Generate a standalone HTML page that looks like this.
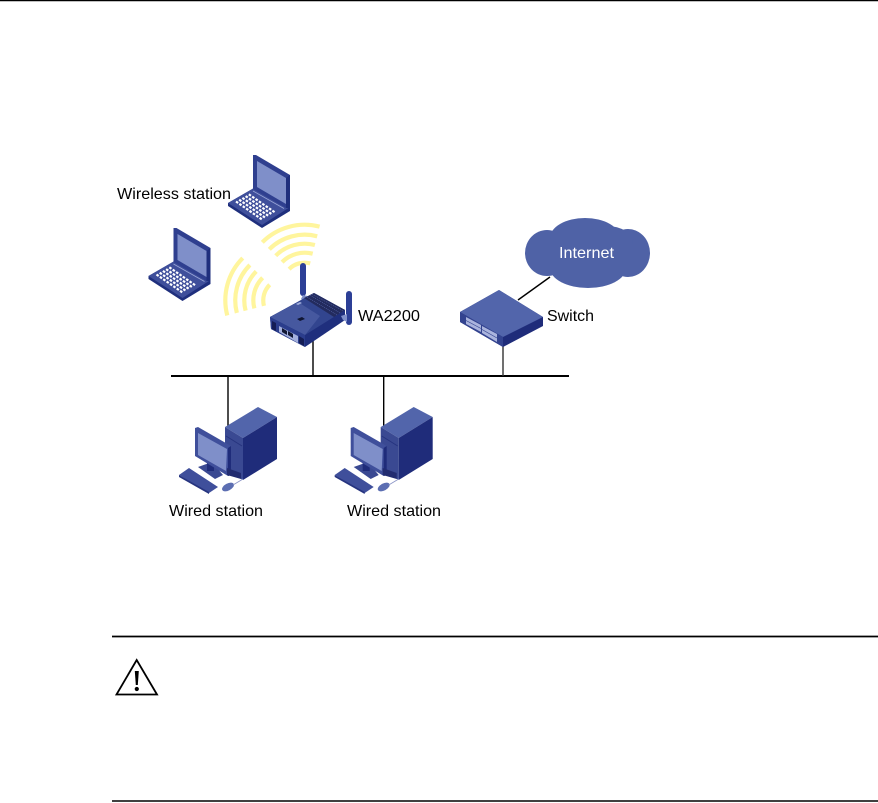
<!DOCTYPE html>
<html><head><meta charset="utf-8"><style>
html,body{margin:0;padding:0;background:#fff;width:878px;height:803px;overflow:hidden}
svg{display:block}
text{font-family:"Liberation Sans",sans-serif;font-size:15.6px;fill:#000}
</style></head><body>
<svg width="878" height="803" viewBox="0 0 878 803" xmlns="http://www.w3.org/2000/svg">
<defs>
<g id="wifi" fill="none" stroke="#fff59d" stroke-width="4.2">
<path d="M-42.4 -42.4A60 60 0 0 1 14.9 -58.1"/>
<path d="M-35.4 -35.4A50 50 0 0 1 12.5 -48.4"/>
<path d="M-29 -29A41 41 0 0 1 10.2 -39.7"/>
<path d="M-22.6 -22.6A32 32 0 0 1 8 -31"/>
<path d="M-15.6 -15.6A22 22 0 0 1 5.5 -21.3"/>
</g>
<g id="laptop">
<polygon points="228,203 254,188 290,207 290,211 262,228 228,206" fill="#1f2f7d"/>
<polygon points="228,203 254,188 290,207 262,225" fill="#3f4f9b"/>
<polygon points="253,155 256,155 290,175 290,208 286,208 253,189" fill="#2f3f8f"/>
<polygon points="286,178 290,175 290,208 286,208" fill="#1f2f7d"/>
<polygon points="257,161 286,178 286,204 257,187" fill="#7f8fc9"/>
<g stroke="#fff" stroke-width="2.2" stroke-dasharray="2.6 1.5" fill="none">
<line x1="236" y1="201.5" x2="262" y2="219.5"/>
<line x1="239.2" y1="199.7" x2="265.2" y2="217.7"/>
<line x1="242.4" y1="197.9" x2="268.4" y2="215.9"/>
<line x1="245.6" y1="196.1" x2="271.6" y2="214.1"/>
<line x1="248.8" y1="194.3" x2="274.8" y2="212.3"/>
</g>
<line x1="253" y1="191" x2="284" y2="208.5" stroke="#9aa6d8" stroke-width=".8"/>
</g>
<g id="pc">
<line x1="228" y1="376" x2="228" y2="428" stroke="#000" stroke-width="1.4"/>
<polygon points="225,427 258,407 277,417 243,438" fill="#5265ab"/>
<polygon points="243,438 277,417 277,459 243,480" fill="#1f2c7a"/>
<polygon points="225,427 243,438 243,480 225,470" fill="#3a4992"/>
<line x1="226" y1="436" x2="242" y2="446" stroke="#26347f" stroke-width="1"/>
<polygon points="198,467 212,462 223,475 215,479" fill="#3a4992"/>
<polygon points="207,463 214,461 214,471 207,471" fill="#1f2c7a"/>
<polygon points="195,428 198,427 231,446 231,475 228,476 195,456" fill="#3f4f9b"/>
<polygon points="228,448 231,446 231,475 228,476" fill="#1f2c7a"/>
<polygon points="198,433 227,449 226,471 198,455" fill="#7f8fc9"/>
<polygon points="179,475 189,468 218,487 209,493" fill="#3f4f9b"/>
<polygon points="179,475 209,492 209,494 179,477" fill="#26347f"/>
<ellipse cx="228" cy="487" rx="6.5" ry="3.5" transform="rotate(-28 228 487)" fill="#5c6eb2"/>
<path d="M233 485L243 479" stroke="#8a94c6" stroke-width=".8" fill="none"/>
<polygon points="227,475 241,479 241,473 227,468" fill="#222c70"/>
</g>
</defs>

<line x1="0" y1="0.5" x2="878" y2="0.5" stroke="#000" stroke-width="1.4"/>

<use href="#wifi" transform="translate(304.7 284.7)"/>
<use href="#wifi" transform="translate(285.3 300.3) rotate(-59.6)"/>

<use href="#laptop"/>
<use href="#laptop" transform="translate(-79.5 73)"/>

<line x1="171" y1="376" x2="569" y2="376" stroke="#000" stroke-width="2"/>
<line x1="313" y1="340" x2="313" y2="376" stroke="#000" stroke-width="1.4"/>
<line x1="503" y1="340" x2="503" y2="376" stroke="#333" stroke-width="1.4"/>
<line x1="518" y1="300" x2="550" y2="277" stroke="#000" stroke-width="1.4"/>

<!-- router -->
<rect x="300" y="263" width="6" height="33" rx="3" fill="#2c3f96"/>
<polygon points="303,295 312,297 308,303 301,299" fill="#7f8fc9"/>
<polygon points="270,317 314,293 345,310 345,320 305,347 271,329" fill="#1f2f7d"/>
<polygon points="270,317 314,293 345,310 305,335" fill="#32458f"/>
<polygon points="270,317 298,302 320,316 305,335" fill="#46589f"/>
<polygon points="270,317 305,335 305,347 271,329" fill="#2b3d8c"/>
<polygon points="304,298 314,293 345,310 334,317" fill="#232b5e"/>
<g stroke="#5a6bb0" stroke-width=".6" stroke-dasharray="1 1"><line x1="307" y1="297" x2="337" y2="315"/><line x1="310" y1="295" x2="340" y2="313"/><line x1="312" y1="294" x2="343" y2="311"/></g>
<polygon points="279,326 298,336 298,343 279,332" fill="#a3afdc"/>
<polygon points="282,328 287,331 287,335 282,332" fill="#101633"/>
<polygon points="288,331 293,334 293,338 288,335" fill="#101633"/>
<polygon points="272,321 276,323 276,331 272,329" fill="#141d55"/>
<polygon points="299,336 304,339 304,346 299,343" fill="#141d55"/>
<polygon points="296,304 300,302 302,303 298,305" fill="#a3afdc"/>
<rect x="346" y="291" width="6" height="34" rx="3" fill="#2c3f96"/>
<polygon points="341,316 347,314 347,322 343,320" fill="#7f8fc9"/>
<polygon points="297,319 302,317 305,319 300,321" fill="#101633"/>

<!-- switch -->
<polygon points="460,312 499,290 543,317 543,326 503,347 460,322" fill="#1f2c7a"/>
<polygon points="460,312 499,290 543,317 503,337" fill="#5265ab"/>
<polygon points="460,312 503,337 503,347 460,322" fill="#33438f"/>
<polygon points="466,317 481,325 481,332 466,324" fill="#aab4dd"/>
<polygon points="482,326 497,334 497,342 482,333" fill="#aab4dd"/>
<g stroke="#33438f" stroke-width=".7"><line x1="466" y1="320.5" x2="481" y2="328.5"/><line x1="482" y1="329.5" x2="497" y2="338"/></g>

<!-- cloud -->
<g fill="#4f62a6">
<ellipse cx="547" cy="253" rx="22" ry="23"/>
<ellipse cx="585" cy="238" rx="35" ry="20"/>
<ellipse cx="628" cy="253" rx="22" ry="24"/>
<ellipse cx="588" cy="268" rx="38" ry="20"/>
<ellipse cx="607" cy="243" rx="26" ry="17"/>
<rect x="550" y="240" width="78" height="30"/>
</g>
<text x="559" y="258" textLength="55" lengthAdjust="spacingAndGlyphs" style="fill:#fff">Internet</text>

<use href="#pc"/>
<use href="#pc" transform="translate(155.7 0)"/>

<text x="117" y="199" textLength="114" lengthAdjust="spacingAndGlyphs">Wireless station</text>
<text x="358" y="321" textLength="62" lengthAdjust="spacingAndGlyphs">WA2200</text>
<text x="547" y="321" textLength="47" lengthAdjust="spacingAndGlyphs">Switch</text>
<text x="169" y="516" textLength="94" lengthAdjust="spacingAndGlyphs">Wired station</text>
<text x="347" y="516" textLength="94" lengthAdjust="spacingAndGlyphs">Wired station</text>

<line x1="112" y1="636.5" x2="878" y2="636.5" stroke="#000" stroke-width="1.8"/>
<line x1="112" y1="801" x2="878" y2="801" stroke="#000" stroke-width="1.6"/>
<polygon points="136.7,660 116.5,694.5 157,694.5" fill="none" stroke="#000" stroke-width="1.8"/>
<polygon points="134.8,671 138.8,671 137.8,685 135.8,685" fill="#000"/>
<circle cx="136.8" cy="689" r="2.1" fill="#000"/>
</svg>
</body></html>
